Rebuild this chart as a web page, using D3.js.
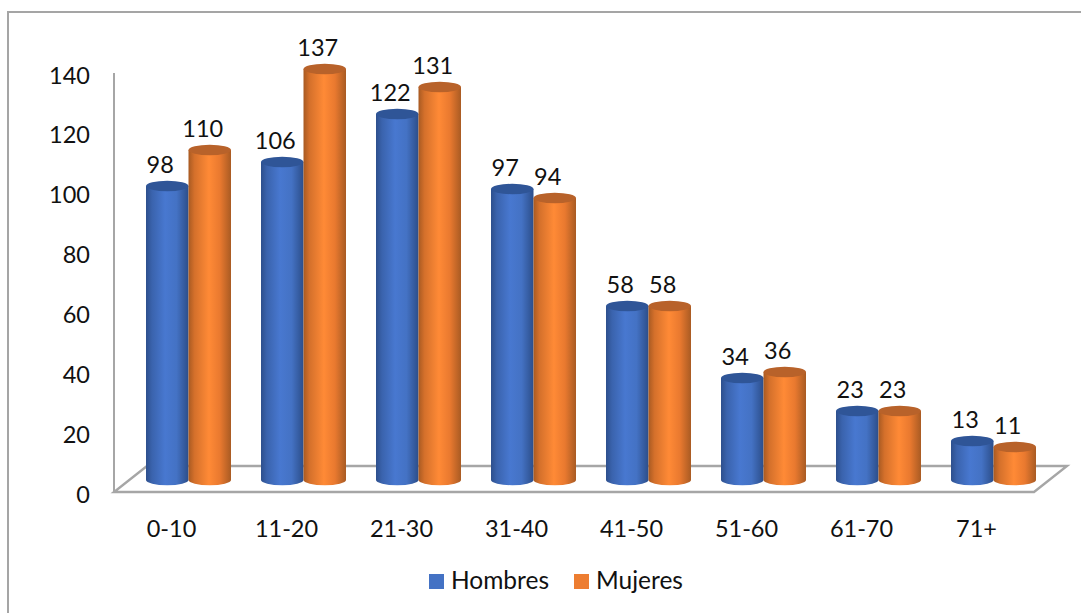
<!DOCTYPE html>
<html><head><meta charset="utf-8">
<script src="https://cdn.jsdelivr.net/npm/d3@7/dist/d3.min.js"></script>
<style>
html,body{margin:0;padding:0;background:#fff}
svg{display:block}
text{font-family:Lato,"Open Sans",sans-serif;fill:#111}
</style></head><body>
<svg id="chart" width="1081" height="613"></svg>
<script>
const categories = ["0-10","11-20","21-30","31-40","41-50","51-60","61-70","71+"];
const hombres = [98,106,122,97,58,34,23,13];
const mujeres = [110,137,131,94,58,36,23,11];
const seriesNames = ["Hombres","Mujeres"];
const yTicks = [0,20,40,60,80,100,120,140];

const svg = d3.select("#chart");
const W = 1081, H = 613;
const fontSize = 23.5;
const legendFont = 24.5;
const wall = "#a6a6a6";

// Front plane of the 3D box carries the axes; bars stand further back.
const front = {left:114, right:1034, bottom:492, top:73};
const depth = {dx:33, dy:26};
const barShift = 17, barLift = 12;
const capRy = 5.2;

const xFront = d3.scaleBand().domain(categories).range([front.left, front.right]);
const yFront = d3.scaleLinear().domain([0,140]).range([front.bottom, front.top]);
const yBar = d3.scaleLinear().domain([0,140]).range([front.bottom-barLift, front.bottom-barLift-420]);
const xSeries = d3.scaleBand().domain(seriesNames).range([-42.5,42.5]);

const defs = svg.append("defs");
const palette = {
  Hombres:{stops:[["0","#2d4f8c"],["0.14","#3a63ad"],["0.45","#4878d0"],["0.72","#4472c4"],["1","#2c4e8a"]],cap:"#2f5597",legend:"#4472c4"},
  Mujeres:{stops:[["0","#a85a22"],["0.14","#d4702b"],["0.48","#ff8a36"],["0.74","#e9792f"],["1","#a95b23"]],cap:"#b8622a",legend:"#ed7d31"}
};
seriesNames.forEach(name=>{
  const g = defs.append("linearGradient").attr("id","body-"+name).attr("x1",0).attr("x2",1).attr("y1",0).attr("y2",0);
  palette[name].stops.forEach(s=>g.append("stop").attr("offset",s[0]).attr("stop-color",s[1]));
});

// Outer frame: only the top and left edges fall inside the view.
svg.append("path").attr("d",d3.line()([[8,H],[8,12],[W,12]]))
  .attr("fill","none").attr("stroke","#a5a5a5").attr("stroke-width",2);

// Floor and vertical wall
const floor = [[front.left,front.bottom],[front.right,front.bottom],
  [front.right+depth.dx,front.bottom-depth.dy],[front.left+depth.dx,front.bottom-depth.dy]];
svg.append("path").attr("d",d3.line().curve(d3.curveLinearClosed)(floor))
  .attr("fill","#fff").attr("stroke",wall).attr("stroke-width",2.4);
svg.append("line").attr("x1",front.left).attr("x2",front.left)
  .attr("y1",front.top).attr("y2",front.bottom).attr("stroke",wall).attr("stroke-width",2);

// Axes
const yAxis = svg.append("g").attr("transform","translate(90,2.5)")
  .call(d3.axisLeft(yFront).tickValues(yTicks).tickSize(0).tickPadding(0));
const xAxis = svg.append("g").attr("transform","translate(0,520)")
  .call(d3.axisBottom(xFront).tickSize(0).tickPadding(0));
[yAxis,xAxis].forEach(a=>{
  a.select(".domain").remove();
  a.selectAll("text").style("font-family",'Lato,"Open Sans",sans-serif').style("font-size",fontSize+"px").attr("fill","#111");
});

// Cylinders, left to right so each overlaps the previous one
const rows = categories.flatMap((c,i)=>[
  {cat:c,name:"Hombres",v:hombres[i]},{cat:c,name:"Mujeres",v:mujeres[i]}]);
const cx = d => xFront(d.cat)+xFront.bandwidth()/2+barShift+xSeries(d.name)+xSeries.bandwidth()/2;
const rx = xSeries.bandwidth()/2;
const bar = svg.append("g").selectAll("g").data(rows).join("g");
bar.append("path")
  .attr("d",d=>{
    const x=cx(d),t=yBar(d.v),b=yBar(0);
    return `M${x-rx},${t}L${x-rx},${b}A${rx},${capRy} 0 0 0 ${x+rx},${b}L${x+rx},${t}Z`;
  })
  .attr("fill",d=>`url(#body-${d.name})`);
bar.append("ellipse")
  .attr("cx",cx).attr("cy",d=>yBar(d.v)).attr("rx",rx).attr("ry",capRy)
  .attr("fill",d=>palette[d.name].cap);

// Value labels sit up and to the left of each cap
svg.append("g").selectAll("text").data(rows).join("text")
  .attr("x",d=>cx(d)-7).attr("y",d=>yBar(d.v)-13)
  .attr("text-anchor","middle").attr("font-size",fontSize)
  .text(d=>d.v);

// Legend
const legendX = {Hombres:429,Mujeres:574};
const legend = svg.append("g").selectAll("g").data(seriesNames).join("g")
  .attr("transform",d=>`translate(${legendX[d]},574)`);
legend.append("rect").attr("width",15).attr("height",15).attr("fill",d=>palette[d].legend);
legend.append("text").attr("x",22).attr("y",15).attr("font-size",legendFont).text(d=>d);
</script>
</body></html>
